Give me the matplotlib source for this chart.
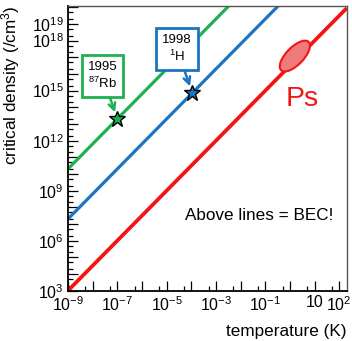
import numpy as np
import matplotlib
matplotlib.use("Agg")
import matplotlib.pyplot as plt
from matplotlib.patches import Ellipse
from matplotlib.ticker import LogLocator, FuncFormatter

plt.rcParams['font.family'] = ['Liberation Sans', 'DejaVu Sans']
plt.rcParams['mathtext.fontset'] = 'custom'
plt.rcParams['mathtext.rm'] = 'Liberation Sans'
plt.rcParams['mathtext.it'] = 'Liberation Sans:italic'

# critical density lines (end points)
rb_temp = [1e-9, 1e-2]
rb_dens = [2.0e10, 6.3e20]
h_temp = [1e-9, 1e0]
h_dens = [2.0e7, 6.3e20]
ps_temp = [1e-9, 2e2]
ps_dens = [1.0e3, 8.9e19]

# experiments
rb_star = (1.0e-7, 2.0e13)
h_star = (1.1e-4, 7.3e14)

x_labels = [-9, -7, -5, -3, -1, 1, 2]
y_labels = [3, 6, 9, 12, 15, 18, 19]

c_green = '#1db150'
c_blue = '#1c74c2'
c_red = '#f41414'

fig = plt.figure(figsize=(3.52, 3.41), dpi=100)
ax = fig.add_axes([0.193, 0.1475, 0.792, 0.835])

ax.plot(rb_temp, rb_dens, color=c_green, lw=2.3, solid_capstyle='butt')
ax.plot(h_temp, h_dens, color=c_blue, lw=2.3, solid_capstyle='butt')
ax.plot(ps_temp, ps_dens, color=c_red, lw=2.7, solid_capstyle='butt')

ax.plot(*rb_star, marker='*', ms=12, mfc=c_green, mec='black', mew=1.0, zorder=5)
ax.plot(*h_star, marker='*', ms=12, mfc=c_blue, mec='black', mew=1.0, zorder=5)

ax.set_xscale('log')
ax.set_yscale('log')
ax.set_xlim(1e-9, 2e2)
ax.set_ylim(1e3, 1.2e20)

def fmt(val, exps):
    e = int(round(np.log10(val)))
    if e not in exps:
        return ''
    if e == 1:
        return '10'
    return r'$10^{%d}$' % e

ax.xaxis.set_major_locator(LogLocator(base=10, numticks=30))
ax.xaxis.set_minor_locator(LogLocator(base=10, subs=[5], numticks=30))
ax.yaxis.set_major_locator(LogLocator(base=10, numticks=30))
ax.yaxis.set_minor_locator(LogLocator(base=10, subs=[2, 5], numticks=30))
ax.xaxis.set_major_formatter(FuncFormatter(lambda v, p: fmt(v, x_labels)))
ax.yaxis.set_major_formatter(FuncFormatter(lambda v, p: fmt(v, y_labels)))
ax.xaxis.set_minor_formatter(FuncFormatter(lambda v, p: ''))
ax.yaxis.set_minor_formatter(FuncFormatter(lambda v, p: ''))

ax.tick_params(which='both', direction='in', top=False, right=False, labelsize=11.5, width=0.9)
ax.tick_params(which='major', length=7, pad=3)
ax.tick_params(which='minor', length=3.5)

for s in ['left', 'bottom']:
    ax.spines[s].set_linewidth(1.3)
    ax.spines[s].set_color('black')
for s in ['top', 'right']:
    ax.spines[s].set_linewidth(1.0)
    ax.spines[s].set_color('#555555')

ax.annotate('1995\n$^{87}$Rb', xy=rb_star, xytext=(0.124, 0.754), textcoords='axes fraction',
            ha='center', va='center', fontsize=9.5, linespacing=1.3,
            bbox=dict(boxstyle='square,pad=0.45', fc='white', ec=c_green, lw=2),
            arrowprops=dict(arrowstyle='->', color=c_green, lw=1.8, shrinkA=0, shrinkB=5,
                            mutation_scale=12))
ax.annotate('1998\n$^{1}$H', xy=h_star, xytext=(0.391, 0.849), textcoords='axes fraction',
            ha='center', va='center', fontsize=9.5, linespacing=1.3,
            bbox=dict(boxstyle='square,pad=0.45', fc='white', ec=c_blue, lw=2),
            arrowprops=dict(arrowstyle='->', color=c_blue, lw=1.8, shrinkA=0, shrinkB=5,
                            mutation_scale=12))

ax.add_patch(Ellipse((0.814, 0.824), 0.14, 0.062, angle=45, transform=ax.transAxes,
                     fc='#f07a7a', ec=c_red, lw=1.5, zorder=4))
ax.text(0.84, 0.675, 'Ps', transform=ax.transAxes, color=c_red, fontsize=20.5,
        ha='center', va='center')
ax.text(0.686, 0.265, 'Above lines = BEC!', transform=ax.transAxes, fontsize=12.3,
        ha='center', va='center')

fig.text(11 / 352, 1 - 5 / 341, 'critical density (/cm$^{3}$)', rotation=90,
         ha='center', va='top', fontsize=12.3)
fig.text(346.7 / 352, 1 - 331.7 / 341, 'temperature (K)', ha='right', va='center',
         fontsize=12.3)

fig.savefig('out.png', dpi=100)
